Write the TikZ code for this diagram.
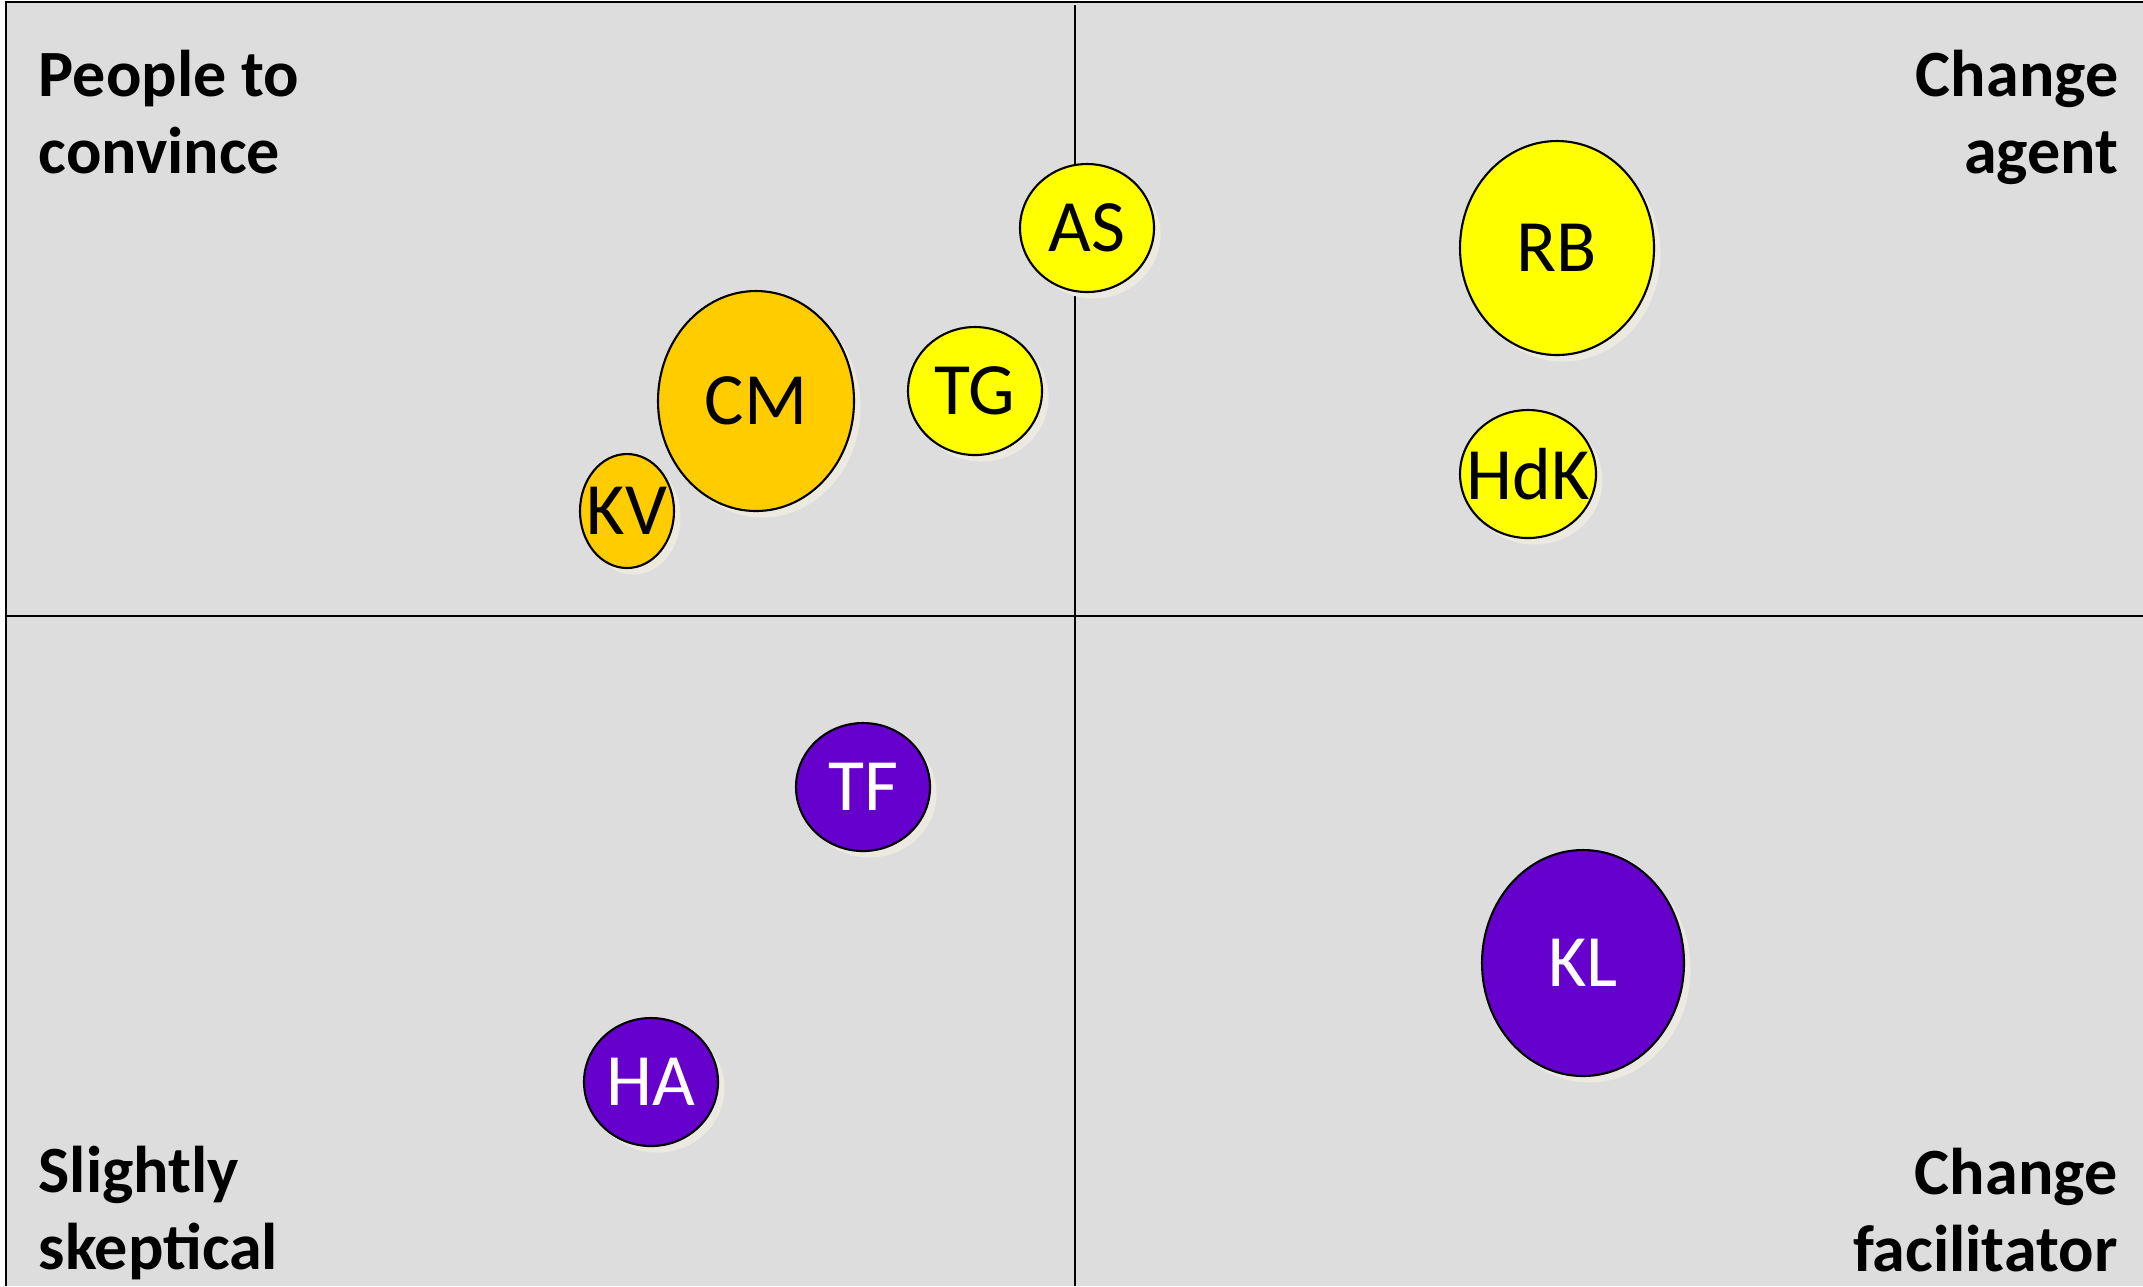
\documentclass[tikz,border=0pt]{standalone}
\usepackage{fontspec}
\setmainfont{Carlito}
\usepackage{tikz}
\usetikzlibrary{shapes.geometric,shadows}
\definecolor{feld}{HTML}{DDDDDD}
\definecolor{gelb}{HTML}{FFFF00}
\definecolor{dgelb}{HTML}{FFCC00}
\definecolor{lila}{HTML}{6600CC}
\definecolor{schatten}{HTML}{ECEAE0}
\tikzset{
  rahmen/.style={black,line width=0.6pt},
  gross/.style={font=\fontsize{21}{25}\selectfont},
  ecke/.style={font=\bfseries\fontsize{18.8}{22}\selectfont,inner sep=0pt},
  blase/.style={ellipse,draw=black,line width=0.6pt,inner sep=0pt,fill=#1,
    drop shadow={shadow xshift=0.065cm,shadow yshift=-0.065cm,fill=schatten,opacity=1}},
  kuerzel/.style={label={[gross]center:#1}},
  kuerzelw/.style={label={[gross,white]center:#1}},
}
\begin{document}
\begin{tikzpicture}
  \useasboundingbox (0,0) rectangle (21.43,-12.86);
  \fill[feld] (0.06,-0.02) rectangle (21.43,-12.86);
  \draw[rahmen] (0.06,-12.86)--(0.06,-0.02)--(21.43,-0.02);
  % Quadranten
  \draw[rahmen] (10.75,-0.05)--(10.75,-12.86);
  \draw[rahmen] (0.06,-6.16)--(21.43,-6.16);
  % Ecken
  \node[ecke,anchor=north west,align=left] (pc) at (0.38,-0.49) {People to\\convince};
  \node[ecke,anchor=north east,align=right] (ca) at (21.19,-0.49) {Change\\agent};
  \node[ecke,anchor=north west,align=left] (ss) at (0.38,-11.45) {Slightly\\skeptical};
  \node[ecke,anchor=north east,align=right] (cf) at (21.18,-11.47) {Change\\facilitator};
  % Personen
  \node[blase=gelb,kuerzel=AS,minimum width=1.34cm,minimum height=1.28cm] (AS) at (10.87,-2.28) {};
  \node[blase=gelb,kuerzel=TG,minimum width=1.34cm,minimum height=1.28cm] (TG) at (9.75,-3.91) {};
  \node[blase=dgelb,kuerzel=CM,minimum width=1.96cm,minimum height=2.20cm] (CM) at (7.56,-4.01) {};
  \node[blase=dgelb,kuerzel=KV,minimum width=0.94cm,minimum height=1.14cm] (KV) at (6.27,-5.11) {};
  \node[blase=gelb,kuerzel=RB,minimum width=1.94cm,minimum height=2.14cm] (RB) at (15.57,-2.48) {};
  \node[blase=gelb,kuerzel=HdK,minimum width=1.36cm,minimum height=1.28cm] (HdK) at (15.28,-4.74) {};
  \node[blase=lila,kuerzelw=TF,minimum width=1.34cm,minimum height=1.28cm] (TF) at (8.63,-7.87) {};
  \node[blase=lila,kuerzelw=HA,minimum width=1.34cm,minimum height=1.28cm] (HA) at (6.51,-10.82) {};
  \node[blase=lila,kuerzelw=KL,minimum width=2.02cm,minimum height=2.26cm] (KL) at (15.83,-9.63) {};
\end{tikzpicture}
\end{document}
